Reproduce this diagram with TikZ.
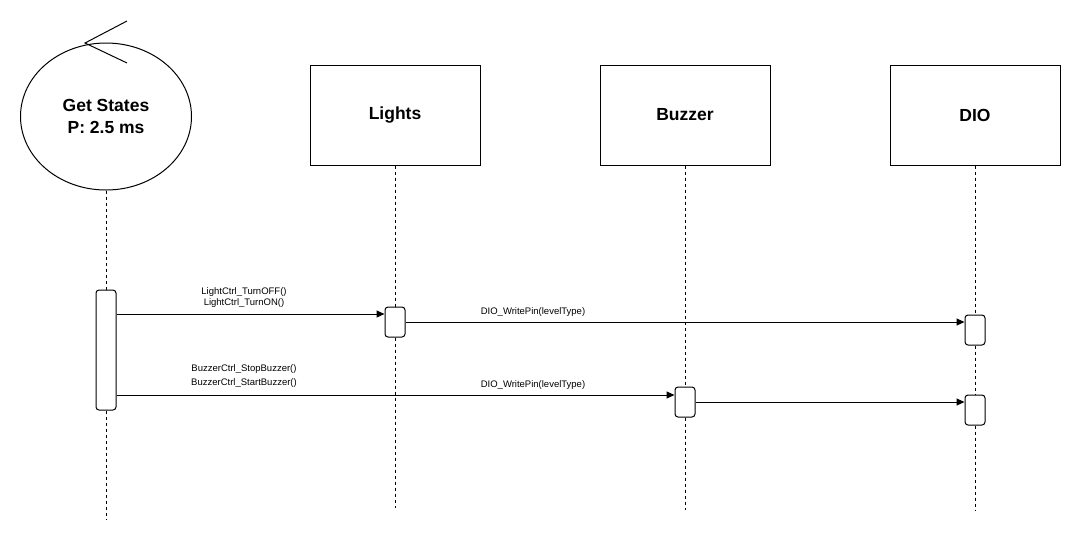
\documentclass[tikz,border=0pt]{standalone}
\usepackage{fontspec}
\setmainfont{Liberation Sans}
\usetikzlibrary{shapes.geometric,arrows.meta}

\tikzset{
    part/.style={rectangle, draw, line width=1pt, minimum width=170pt, minimum height=100pt, font=\bfseries\fontsize{17.5}{22}\selectfont},
    act/.style={rectangle, draw, fill=white, line width=1pt, rounded corners=3pt, minimum width=20pt, minimum height=30pt, inner sep=0pt},
    lifeline/.style={line width=0.8pt, dash pattern=on 3pt off 3pt},
    msg/.style={line width=1pt, -{Triangle[length=8pt,width=7pt]}},
    msglabel/.style={align=center, font=\fontsize{9.5}{11}\selectfont, inner sep=0pt}
}

\begin{document}
\begin{tikzpicture}[x=1pt, y=-1pt]
    \useasboundingbox (0,0) rectangle (1081,542);

    % Participants
    \node [ellipse, draw, line width=1pt, minimum width=171pt, minimum height=147pt, align=center, font=\bfseries\fontsize{17.5}{22}\selectfont] (getstates) at (106,116.5) {Get States\\P: 2.5 ms};
    \node [part] (lights) at (395,115) {Lights};
    \node [part] (buzzer) at (685,115) {Buzzer};
    \node [part] (dio) at (975,115) {DIO};

    % Loop mark on the control circle
    \coordinate (loopTip) at (85,43);
    \coordinate (loopA) at (127,21);
    \coordinate (loopB) at (127,63);
    \draw [line width=1pt] (loopA) -- (loopTip) -- (loopB);

    % Activations
    \node [act, minimum height=120pt] (actGS) at (106,350) {};
    \node [act] (actL) at (395,322) {};
    \node [act] (actB) at (685,402) {};
    \node [act] (actD1) at (975,330) {};
    \node [act] (actD2) at (975,410) {};

    % Lifeline ends
    \coordinate (gsEnd) at (106,520);
    \coordinate (lEnd) at (395,508);
    \coordinate (bEnd) at (685,510);
    \coordinate (dEnd) at (975,510);

    % Lifelines
    \draw [lifeline] (getstates) -- (actGS) -- (gsEnd);
    \draw [lifeline] (lights) -- (actL) -- (lEnd);
    \draw [lifeline] (buzzer) -- (actB) -- (bEnd);
    \draw [lifeline] (dio) -- (actD1) -- (actD2) -- (dEnd);

    % Messages
    \coordinate (inL) at ([yshift=8pt]actL.west);
    \coordinate (inB) at ([yshift=7pt]actB.west);
    \draw [msg] (actGS.east |- inL) -- (inL);
    \draw [msg] (actL.east) -- (actL.east -| actD1.west);
    \draw [msg] (actGS.east |- inB) -- (inB);
    \draw [msg] (actB.east) -- (actB.east -| actD2.west);

    % Message labels
    \node [msglabel] (lblLight) at (244,297.5) {LightCtrl\_TurnOFF()\\LightCtrl\_TurnON()};
    \node [msglabel, font=\fontsize{9.5}{14}\selectfont] (lblBuzzer) at (244,376) {BuzzerCtrl\_StopBuzzer()\\BuzzerCtrl\_StartBuzzer()};
    \node [msglabel] (lblDio1) at (533,312) {DIO\_WritePin(levelType)};
    \node [msglabel] (lblDio2) at (533,385) {DIO\_WritePin(levelType)};
\end{tikzpicture}
\end{document}
